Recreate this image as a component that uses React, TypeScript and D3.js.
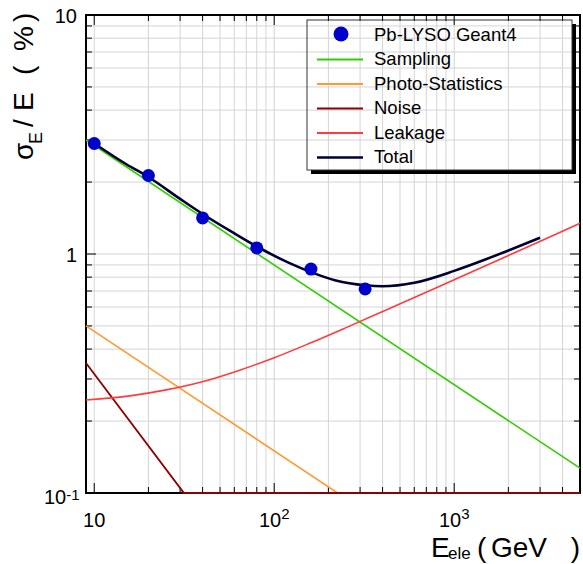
import React from 'react';
import * as d3 from 'd3';

const width = 583;
const height = 564;

// Geant4 points
const dataE = [10, 20, 40, 80, 160, 320];
const dataRes = [2.9, 2.13, 1.415, 1.06, 0.865, 0.714];

// fitted terms
const samplingE = [9, 5000];
const samplingRes = [3.0, 0.127];
const photoE = [9, 225, 5000];
const photoRes = [0.5, 0.1, 0.1];
const noiseE = [9, 31.5, 5000];
const noiseRes = [0.35, 0.1, 0.1];
const leakE = [9, 15.8, 25.1, 39.8, 63.1, 100, 158.5, 251, 398, 1000, 3162, 5000];
const leakRes = [0.245, 0.255, 0.27, 0.292, 0.325, 0.368, 0.424, 0.492, 0.573, 0.78, 1.15, 1.345];
const totalE = [10, 15, 20, 30, 40, 60, 80, 120, 160, 220, 320, 400, 600, 1000, 1500, 2000, 3000];
const totalRes = [2.9, 2.38, 2.1, 1.7, 1.47, 1.22, 1.075, 0.92, 0.84, 0.775, 0.74, 0.733, 0.758, 0.85, 0.95, 1.035, 1.17];

const xLabelVals = [10, 100, 1000];
const xLabelBase = ['10', '10', '10'];
const xLabelExp = ['', '2', '3'];
const yLabelVals = [10, 1, 0.1];
const yLabelBase = ['10', '1', '10'];
const yLabelExp = ['', '', '-1'];

const legendNames = ['Pb-LYSO Geant4', 'Sampling', 'Photo-Statistics', 'Noise', 'Leakage', 'Total'];
const colors = {
  sampling: '#33cc00',
  photo: '#ff9933',
  noise: '#8b0000',
  leak: '#ff3b3b',
  total: '#000033',
  marker: '#0000cc',
};
const legendColors = [colors.marker, colors.sampling, colors.photo, colors.noise, colors.leak, colors.total];

const font = '"Liberation Sans", Arial, Helvetica, sans-serif';

const x = d3.scaleLog().domain([9, 5000]).range([86, 580]);
const y = d3.scaleLog().domain([0.1, 10]).range([493, 15]);

const isMajor = (v: number) => Math.abs(Math.log10(v) - Math.round(Math.log10(v))) < 1e-9;

const App = () => {
  const line = d3
    .line<[number, number]>()
    .x(d => x(d[0]))
    .y(d => y(d[1]));
  const smooth = d3
    .line<[number, number]>()
    .x(d => x(d[0]))
    .y(d => y(d[1]))
    .curve(d3.curveMonotoneX);

  const pairs = (a: number[], b: number[]) => a.map((v, i) => [v, b[i]] as [number, number]);

  const xt = x.ticks().filter(v => v > 9 && v < 5000);
  const yt = y.ticks().filter(v => v > 0.1 && v < 10);
  const [x0, x1] = x.range();
  const [y0, y1] = y.range();

  const lgX = 307, lgY = 20, lgW = 265, lgH = 150;

  return (
    <svg width={width} height={height} style={{ position: 'absolute', left: 0, top: 0 }} fontFamily={font}>
      <rect width={width} height={height} fill="#fff" />
      {/* grid */}
      <g stroke="#d4d4d4" strokeWidth={1}>
        {xt.map(v => (
          <line key={'gx' + v} x1={x(v)} x2={x(v)} y1={y1} y2={y0} />
        ))}
        {yt.map(v => (
          <line key={'gy' + v} x1={x0} x2={x1} y1={y(v)} y2={y(v)} />
        ))}
      </g>

      {/* frame and ticks */}
      <g stroke="#000" strokeWidth={1}>
        {xt.map(v => {
          const l = isMajor(v) ? 10 : 6;
          return (
            <g key={'tx' + v}>
              <line x1={x(v)} x2={x(v)} y1={y0} y2={y0 - l} />
              <line x1={x(v)} x2={x(v)} y1={y1} y2={y1 + l} />
            </g>
          );
        })}
        {yt.map(v => {
          const l = isMajor(v) ? 10 : 6;
          return (
            <g key={'ty' + v}>
              <line x1={x0} x2={x0 + l} y1={y(v)} y2={y(v)} />
              <line x1={x1} x2={x1 - l} y1={y(v)} y2={y(v)} />
            </g>
          );
        })}
      </g>
      <rect x={x0} y={y1} width={x1 - x0} height={y0 - y1} fill="none" stroke="#000" strokeWidth={2} />

      {/* curves */}
      <g fill="none">
        <path d={line(pairs(samplingE, samplingRes))!} stroke={colors.sampling} strokeWidth={1.6} />
        <path d={line(pairs(photoE, photoRes))!} stroke={colors.photo} strokeWidth={1.6} />
        <path d={line(pairs(noiseE, noiseRes))!} stroke={colors.noise} strokeWidth={1.8} />
        <path d={smooth(pairs(leakE, leakRes))!} stroke={colors.leak} strokeWidth={1.6} />
        <path d={smooth(pairs(totalE, totalRes))!} stroke={colors.total} strokeWidth={2.6} />
      </g>

      {dataE.map((e, i) => (
        <circle key={'p' + e} cx={x(e)} cy={y(dataRes[i])} r={6.5} fill={colors.marker} />
      ))}

      {/* tick labels */}
      <g fontSize={20} fill="#000">
        {xLabelVals.map((v, i) => (
          <text key={'lx' + v} x={x(v)} y={527} textAnchor="middle">
            {xLabelBase[i]}
            {xLabelExp[i] && (
              <tspan fontSize={15} dy={-8}>
                {xLabelExp[i]}
              </tspan>
            )}
          </text>
        ))}
        {yLabelVals.map((v, i) =>
          yLabelExp[i] ? (
            <text key={'ly' + v} x={44} y={y(v) + 11}>
              {yLabelBase[i]}
              <tspan fontSize={15} dy={-4}>
                {yLabelExp[i]}
              </tspan>
            </text>
          ) : (
            <text key={'ly' + v} x={77} y={y(v) + 8} textAnchor="end">
              {yLabelBase[i]}
            </text>
          )
        )}
      </g>

      {/* axis titles */}
      <g fontSize={28} fill="#000">
        <text x={431} y={557}>E</text>
        <text x={448} y={559} fontSize={17}>ele</text>
        <text x={477} y={557}>(</text>
        <text x={491} y={557}>GeV</text>
        <text x={580} y={557} textAnchor="end">)</text>

        <text transform="translate(33,160) rotate(-90)">σ</text>
        <text transform="translate(42,144) rotate(-90)" fontSize={18}>E</text>
        <text transform="translate(33,127) rotate(-90)">/</text>
        <text transform="translate(33,111) rotate(-90)">E</text>
        <text transform="translate(33,75) rotate(-90)">(</text>
        <text transform="translate(33,51) rotate(-90)">%</text>
        <text transform="translate(33,22) rotate(-90)">)</text>
      </g>

      {/* legend */}
      <rect x={lgX + 4} y={lgY + lgH} width={lgW} height={4} fill="#000" />
      <rect x={lgX + lgW} y={lgY + 4} width={4} height={lgH} fill="#000" />
      <rect x={lgX} y={lgY} width={lgW} height={lgH} fill="none" stroke="#333" strokeWidth={1} />
      {legendNames.map((name, i) => {
        const base = 40.5 + i * 24.5;
        const cy = base - 6.5;
        return (
          <g key={name}>
            {i === 0 ? (
              <circle cx={341} cy={cy} r={7.5} fill={legendColors[i]} />
            ) : (
              <line
                x1={317}
                x2={363}
                y1={cy + 1}
                y2={cy + 1}
                stroke={legendColors[i]}
                strokeWidth={i === 5 ? 2.6 : 1.8}
              />
            )}
            <text x={374} y={base} fontSize={18.5} fill="#000">
              {name}
            </text>
          </g>
        );
      })}
    </svg>
  );
};

export default App;
